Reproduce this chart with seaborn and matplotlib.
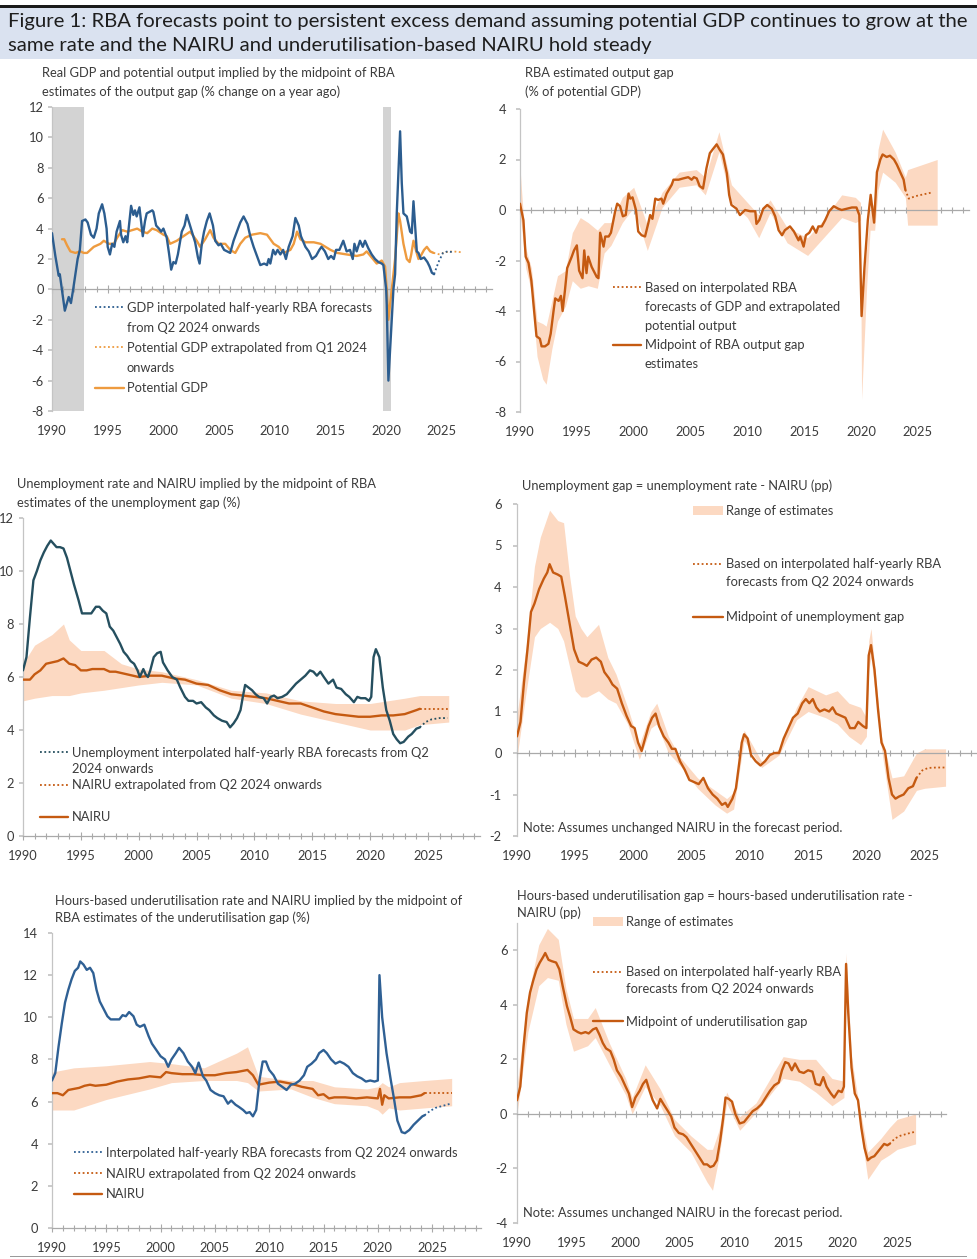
import numpy as np
import seaborn as sns
import matplotlib.pyplot as plt
from matplotlib.lines import Line2D
from matplotlib.patches import Patch, Rectangle
from matplotlib.ticker import MultipleLocator

# -------------------------------
# Panel 1: real GDP vs potential (% y/y)
# -------------------------------
gdp_year = [1990.0, 1990.3, 1990.6, 1990.7, 1991.15, 1991.5, 1991.7, 1991.9, 1992.3, 1992.5,
            1992.7, 1993.0, 1993.2, 1993.5, 1993.75, 1994.0, 1994.2, 1994.5, 1994.7, 1994.9,
            1995.0, 1995.2, 1995.4, 1995.6, 1995.8, 1996.1, 1996.2, 1996.4, 1996.6, 1996.75,
            1997.1, 1997.3, 1997.45, 1997.6, 1997.85, 1998.15, 1998.35, 1998.5, 1999.0, 1999.1,
            1999.35, 1999.6, 1999.8, 2000.0, 2000.3, 2000.5, 2000.7, 2000.9, 2001.1, 2001.3,
            2001.65, 2001.9, 2002.1, 2002.35, 2002.65, 2002.85, 2003.1, 2003.25, 2003.45, 2003.65,
            2003.9, 2004.15, 2004.45, 2004.65, 2004.95, 2005.15, 2005.45, 2006.0, 2006.3, 2006.9,
            2007.2, 2007.55, 2007.8, 2008.1, 2008.4, 2008.7, 2009.05, 2009.3, 2009.45, 2009.6,
            2009.85, 2010.05, 2010.25, 2010.5, 2010.75, 2011.0, 2011.25, 2011.6, 2011.85, 2012.15,
            2012.35, 2012.75, 2013.05, 2013.35, 2013.7, 2014.0, 2014.2, 2014.5, 2014.8, 2015.05,
            2015.3, 2015.5, 2015.8, 2016.15, 2016.45, 2016.75, 2017.0, 2017.15, 2017.35, 2017.65,
            2017.9, 2018.1, 2018.4, 2018.7, 2019.0, 2019.3, 2019.6, 2019.75, 2020.0, 2020.05,
            2020.2, 2020.35, 2020.5, 2020.65, 2020.8, 2020.95, 2021.25, 2021.4, 2021.55, 2021.85,
            2022.15, 2022.3, 2022.45, 2022.55, 2022.75, 2022.9, 2023.1, 2023.4, 2023.7, 2023.9,
            2024.1, 2024.3]
gdp_val = [3.7, 2.2, 0.9, 1.0, -1.4, -0.5, -0.9, 0.0, 2.0, 2.6,
           4.5, 4.6, 4.4, 3.6, 3.4, 4.0, 5.0, 5.6, 5.0, 4.0,
           2.8, 2.3, 3.0, 2.8, 3.8, 4.5, 3.6, 3.1, 3.5, 3.1,
           5.5, 4.9, 5.2, 4.8, 5.4, 3.5, 4.5, 5.0, 5.2, 5.1,
           4.2, 4.0, 3.8, 4.0, 3.4, 2.4, 1.3, 1.8, 1.7, 2.3,
           3.8, 4.2, 4.9, 4.3, 3.6, 3.1, 2.1, 1.7, 3.0, 3.8,
           4.5, 5.0, 4.2, 3.2, 2.9, 3.0, 2.6, 2.4, 3.2, 4.4,
           4.8, 4.3, 3.5, 2.8, 2.2, 1.6, 1.7, 1.6, 2.0, 1.7,
           2.6, 2.3, 2.6, 2.3, 2.6, 2.0, 2.8, 3.5, 4.7, 4.2,
           3.5, 2.8, 2.5, 2.0, 2.2, 2.6, 2.8, 2.5, 2.0, 2.2,
           2.0, 2.6, 2.6, 3.2, 2.5, 2.6, 2.0, 3.0, 2.5, 3.2,
           2.8, 3.2, 2.7, 2.3, 2.0, 1.8, 1.7, 1.6, 0.0, -1.0,
           -6.0, -4.0, -2.0, 0.0, 1.0, 5.0, 10.4, 7.0, 5.0, 4.8,
           3.8, 3.7, 5.8, 4.7, 2.5, 2.4, 2.0, 2.1, 1.8, 1.5,
           1.1, 1.0]
gdp_fc_year = [2024.3, 2024.7, 2025.1, 2025.5, 2026.0]
gdp_fc_val = [1.0, 1.8, 2.4, 2.5, 2.45]

pot_year = [1990.9, 1991.1, 1991.35, 1991.65, 1992.1, 1992.55, 1992.85, 1993.15, 1993.45, 1993.75,
            1994.35, 1994.65, 1995.1, 1995.55, 1995.85, 1996.3, 1996.75, 1997.2, 1997.65, 1998.1,
            1998.55, 1999.0, 1999.4, 2000.0, 2000.3, 2000.6, 2001.2, 2001.8, 2002.4, 2003.0,
            2003.3, 2003.75, 2004.2, 2004.5, 2004.95, 2005.55, 2006.0, 2006.45, 2006.9, 2007.35,
            2007.95, 2008.7, 2009.3, 2009.9, 2010.35, 2010.8, 2011.4, 2011.7, 2011.85, 2012.0,
            2012.3, 2012.75, 2013.5, 2014.1, 2014.55, 2015.0, 2015.6, 2016.45, 2017.35, 2017.95,
            2018.25, 2018.7, 2019.15, 2019.6, 2019.9, 2020.05, 2020.2, 2020.35, 2020.65, 2020.8,
            2021.1, 2021.25, 2021.55, 2021.85, 2022.1, 2022.25, 2022.45, 2022.7, 2022.9, 2023.1,
            2023.4, 2023.65, 2023.95, 2024.25]
pot_val = [3.3, 3.3, 2.9, 2.5, 2.4, 2.5, 2.4, 2.4, 2.6, 2.8,
           3.0, 3.2, 3.0, 3.0, 3.4, 3.9, 3.8, 3.9, 4.0, 3.8,
           3.7, 4.0, 3.9, 3.6, 3.5, 3.0, 3.2, 3.5, 3.8, 3.2,
           2.8, 3.3, 3.9, 3.4, 3.0, 3.0, 2.6, 2.4, 3.0, 3.4,
           3.6, 3.7, 3.6, 3.0, 2.8, 2.4, 2.6, 3.0, 3.4, 3.8,
           3.3, 3.1, 3.1, 3.0, 2.8, 2.6, 2.4, 2.3, 2.2, 2.3,
           2.5, 2.1, 1.7, 1.9, 1.5, 0.0, -2.0, -1.0, 1.0, 2.0,
           5.0, 4.5, 3.0, 2.0, 1.8, 2.3, 3.2, 2.5, 2.0, 2.2,
           2.6, 2.8, 2.5, 2.4]
pot_fc_year = [2024.25, 2024.8, 2025.3, 2026.0, 2026.7]
pot_fc_val = [2.4, 2.3, 2.45, 2.5, 2.45]
recession_start = [1990.0, 2019.75]
recession_end = [1992.9, 2020.45]

# -------------------------------
# Panel 2: output gap (% of potential GDP)
# -------------------------------
ogap_year = [1990.0, 1990.3, 1990.5, 1990.75, 1991.0, 1991.2, 1991.45, 1991.75, 1991.9, 1992.2,
             1992.5, 1992.7, 1992.95, 1993.1, 1993.4, 1993.6, 1993.75, 1993.95, 1994.15, 1994.55,
             1994.75, 1995.0, 1995.2, 1995.5, 1995.65, 1995.85, 1996.0, 1996.3, 1996.75, 1996.9,
             1997.05, 1997.35, 1997.5, 1997.8, 1998.0, 1998.35, 1998.55, 1998.8, 1999.05, 1999.3,
             1999.55, 1999.7, 1999.9, 2000.2, 2000.4, 2000.7, 2001.0, 2001.3, 2001.45, 2001.65,
             2001.9, 2002.15, 2002.45, 2002.6, 2002.9, 2003.35, 2003.5, 2003.95, 2004.35, 2004.8,
             2005.1, 2005.3, 2005.55, 2005.8, 2006.1, 2006.4, 2006.7, 2006.95, 2007.3, 2007.55,
             2007.85, 2008.2, 2008.4, 2008.6, 2009.05, 2009.35, 2009.8, 2010.25, 2010.7, 2010.8,
             2011.05, 2011.4, 2011.75, 2012.15, 2012.45, 2012.75, 2013.05, 2013.3, 2013.75, 2014.1,
             2014.5, 2014.65, 2014.95, 2015.15, 2015.45, 2015.75, 2016.05, 2016.25, 2016.55, 2016.85,
             2017.2, 2017.6, 2018.0, 2018.3, 2018.75, 2019.2, 2019.6, 2019.85, 2020.05, 2020.3,
             2020.6, 2020.85, 2021.15, 2021.4, 2021.7, 2021.9, 2022.25, 2022.55, 2022.9, 2023.15,
             2023.45, 2023.75, 2023.9]
ogap_val = [0.25, -0.4, -1.85, -2.1, -2.8, -3.8, -5.0, -5.1, -5.4, -5.4,
            -5.3, -4.9, -4.0, -3.5, -3.6, -3.4, -4.0, -3.2, -2.3, -1.85,
            -1.6, -1.4, -2.4, -2.7, -1.6, -2.5, -1.85, -2.25, -2.65, -2.7,
            -0.9, -1.45, -1.05, -1.05, -0.9, -0.1, 0.25, 0.15, -0.25, -0.2,
            0.65, 0.45, 0.5, 0.0, -0.85, -1.0, -1.05, -0.5, -0.2, -0.35,
            0.45, 0.4, 0.45, 0.25, 0.65, 1.0, 1.2, 1.2, 1.25, 1.3,
            1.2, 1.3, 1.25, 0.95, 0.85, 1.65, 2.25, 2.4, 2.6, 2.4,
            2.2, 1.45, 0.6, 0.2, 0.05, -0.2, 0.0, -0.05, -0.05, -0.55,
            -0.4, 0.05, 0.2, 0.05, -0.25, -0.8, -1.0, -0.8, -0.65, -0.85,
            -1.2, -1.05, -1.45, -1.0, -0.9, -0.65, -0.9, -0.65, -0.65, -0.4,
            -0.05, 0.15, 0.05, 0.0, 0.05, 0.1, 0.1, -0.2, -4.2, -2.3,
            -0.4, 0.6, -0.5, 1.5, 2.0, 2.2, 2.1, 2.15, 2.0, 1.8,
            1.5, 1.2, 0.8]
ogap_fc_year = [2023.9, 2024.2, 2024.8, 2025.5, 2026.3]
ogap_fc_val = [0.8, 0.45, 0.55, 0.62, 0.7]
ogap_band_year = [1990.0, 1990.1, 1990.5, 1991.0, 1991.5, 1992.0, 1992.3, 1992.8, 1993.3, 1994.0,
                  1994.6, 1995.3, 1996.0, 1996.8, 1997.4, 1998.0, 1999.0, 2000.0, 2001.2, 2002.5,
                  2004.0, 2005.5, 2006.3, 2007.5, 2008.6, 2010.0, 2011.0, 2012.0, 2013.5, 2015.3,
                  2016.5, 2018.3, 2019.5, 2019.95, 2020.05, 2020.5, 2020.8, 2021.2, 2021.5, 2021.9,
                  2023.0, 2023.9, 2024.1, 2026.7]
ogap_band_lo = [-0.3, -0.5, -2.3, -3.2, -5.8, -6.7, -6.9, -5.5, -4.4, -3.8,
                -2.8, -3.1, -3.0, -3.1, -1.7, -1.4, -0.5, 0.1, -1.6, 0.1,
                0.9, 1.0, 0.6, 2.3, 0.3, -0.3, -1.1, -0.1, -1.3, -1.8,
                -1.2, -0.3, -0.5, -0.4, -7.5, -3.0, -0.8, -0.8, 0.8, 1.5,
                1.1, 0.5, -0.6, -0.6]
ogap_band_hi = [1.7, 1.0, -1.5, -2.3, -4.4, -4.5, -4.6, -3.6, -2.6, -2.4,
                -0.9, -0.3, -0.5, -0.8, -0.5, -0.5, 0.5, 0.9, -0.6, 0.7,
                1.5, 1.6, 1.3, 3.1, 1.0, 0.3, -0.2, 0.4, -0.7, -1.1,
                -0.5, 0.6, 0.5, 0.3, -3.8, -1.5, 0.0, 0.3, 2.4, 3.2,
                2.3, 1.3, 1.6, 2.0]

# -------------------------------
# Panel 3: unemployment rate and NAIRU (%)
# -------------------------------
ur_year = [1990.0, 1990.3, 1990.6, 1990.9, 1991.2, 1991.5, 1991.8, 1992.1, 1992.4, 1992.6,
           1992.9, 1993.2, 1993.5, 1993.8, 1994.1, 1994.4, 1994.8, 1995.1, 1995.5, 1995.9,
           1996.3, 1996.6, 1996.9, 1997.2, 1997.5, 1997.8, 1998.1, 1998.4, 1998.7, 1999.0,
           1999.3, 1999.6, 1999.9, 2000.1, 2000.4, 2000.6, 2000.8, 2001.0, 2001.3, 2001.6,
           2001.9, 2002.1, 2002.5, 2002.9, 2003.3, 2003.6, 2004.0, 2004.3, 2004.7, 2005.0,
           2005.4, 2005.8, 2006.1, 2006.5, 2006.8, 2007.2, 2007.6, 2007.9, 2008.2, 2008.5,
           2008.8, 2009.0, 2009.2, 2009.5, 2009.8, 2010.1, 2010.4, 2010.8, 2011.1, 2011.4,
           2011.7, 2012.0, 2012.4, 2012.8, 2013.2, 2013.6, 2014.0, 2014.4, 2014.8, 2015.1,
           2015.4, 2015.7, 2016.0, 2016.4, 2016.8, 2017.1, 2017.5, 2017.9, 2018.2, 2018.6,
           2018.9, 2019.2, 2019.6, 2019.9, 2020.1, 2020.3, 2020.5, 2020.8, 2021.1, 2021.4,
           2021.7, 2022.0, 2022.3, 2022.6, 2022.9, 2023.3, 2023.6, 2024.0, 2024.3]
ur_val = [6.25, 6.75, 8.25, 9.65, 10.0, 10.4, 10.7, 10.95, 11.15, 11.05,
          10.9, 10.9, 10.85, 10.5, 10.0, 9.5, 8.9, 8.4, 8.4, 8.4,
          8.65, 8.65, 8.5, 8.4, 7.9, 7.75, 7.5, 7.25, 6.95, 6.8,
          6.6, 6.5, 6.25, 6.0, 6.3, 6.1, 6.0, 6.25, 6.75, 6.9,
          6.95, 6.55, 6.25, 6.0, 5.9, 5.6, 5.25, 5.1, 5.1, 5.0,
          5.05, 4.85, 4.75, 4.55, 4.45, 4.35, 4.3, 4.1, 4.25, 4.45,
          4.75, 5.25, 5.7, 5.6, 5.5, 5.35, 5.25, 5.2, 5.0, 5.25,
          5.3, 5.2, 5.25, 5.35, 5.55, 5.75, 5.9, 6.05, 6.25, 6.2,
          6.05, 6.2, 6.0, 5.75, 5.9, 5.6, 5.55, 5.35, 5.25, 5.05,
          5.25, 5.2, 5.2, 5.1, 5.25, 6.75, 7.05, 6.75, 5.6, 4.75,
          4.35, 3.85, 3.65, 3.5, 3.55, 3.75, 3.85, 4.05, 4.1]
ur_fc_year = [2024.3, 2024.8, 2025.3, 2026.0, 2026.7]
ur_fc_val = [4.1, 4.3, 4.4, 4.45, 4.45]

nairu_year = [1990.0, 1990.6, 1991.0, 1991.5, 1992.0, 1992.5, 1993.0, 1993.5, 1994.0, 1994.5,
              1995.0, 1995.5, 1996.0, 1996.5, 1997.0, 1997.5, 1998.0, 1999.0, 2000.0, 2001.0,
              2002.0, 2003.0, 2004.0, 2005.0, 2006.0, 2007.0, 2008.0, 2009.0, 2010.0, 2011.0,
              2012.0, 2013.0, 2014.0, 2015.0, 2016.0, 2017.0, 2018.0, 2019.0, 2020.0, 2021.0,
              2022.0, 2023.0, 2024.0, 2024.3]
nairu_val = [5.9, 5.9, 6.1, 6.25, 6.5, 6.55, 6.6, 6.7, 6.5, 6.45,
             6.25, 6.25, 6.3, 6.3, 6.3, 6.2, 6.2, 6.1, 6.0, 6.05,
             6.05, 5.95, 5.9, 5.75, 5.7, 5.5, 5.35, 5.3, 5.25, 5.2,
             5.1, 5.0, 5.0, 4.85, 4.7, 4.6, 4.55, 4.5, 4.5, 4.55,
             4.55, 4.6, 4.75, 4.8]
nairu_fc_year = [2024.3, 2025.5, 2026.8]
nairu_fc_val = [4.8, 4.8, 4.8]
nairu_band_year = [1990.0, 1991.0, 1992.5, 1993.5, 1994.0, 1995.0, 1997.0, 1998.5, 2000.0, 2002.0,
                   2005.0, 2008.0, 2011.0, 2014.0, 2017.0, 2020.0, 2023.0, 2024.3, 2026.8]
nairu_band_lo = [5.1, 5.2, 5.3, 5.3, 5.3, 5.4, 5.5, 5.6, 5.7, 5.8,
                 5.7, 5.2, 5.0, 4.6, 4.3, 4.0, 4.0, 4.2, 4.3]
nairu_band_hi = [6.5, 7.2, 7.6, 8.0, 7.4, 7.0, 7.0, 6.5, 6.3, 6.2,
                 5.9, 5.5, 5.4, 5.1, 5.0, 5.0, 5.2, 5.3, 5.3]

# -------------------------------
# Panel 4: unemployment gap (pp)
# -------------------------------
ugap_year = [1990.0, 1990.3, 1990.6, 1990.9, 1991.2, 1991.5, 1991.9, 1992.3, 1992.6, 1992.8,
             1993.1, 1993.5, 1993.8, 1994.1, 1994.5, 1994.9, 1995.3, 1995.7, 1996.0, 1996.4,
             1996.8, 1997.2, 1997.5, 1997.9, 1998.2, 1998.6, 1999.0, 1999.4, 1999.8, 2000.1,
             2000.4, 2000.7, 2001.0, 2001.3, 2001.6, 2001.9, 2002.2, 2002.6, 2003.0, 2003.3,
             2003.6, 2004.0, 2004.4, 2004.8, 2005.2, 2005.6, 2006.0, 2006.4, 2006.8, 2007.2,
             2007.6, 2007.9, 2008.1, 2008.5, 2008.8, 2009.1, 2009.3, 2009.5, 2009.8, 2010.1,
             2010.5, 2010.9, 2011.3, 2011.7, 2012.1, 2012.5, 2012.9, 2013.3, 2013.7, 2014.1,
             2014.5, 2014.8, 2015.1, 2015.4, 2015.7, 2016.0, 2016.4, 2016.8, 2017.1, 2017.4,
             2017.8, 2018.2, 2018.6, 2019.0, 2019.3, 2019.7, 2020.0, 2020.2, 2020.4, 2020.7,
             2021.0, 2021.3, 2021.6, 2021.9, 2022.2, 2022.5, 2022.8, 2023.2, 2023.6, 2024.0,
             2024.3]
ugap_val = [0.4, 0.75, 1.7, 2.5, 3.4, 3.6, 3.95, 4.2, 4.35, 4.55,
            4.35, 4.3, 4.25, 3.8, 3.15, 2.5, 2.2, 2.15, 2.1, 2.25,
            2.3, 2.2, 1.95, 1.8, 1.65, 1.55, 1.2, 0.9, 0.65, 0.6,
            0.25, 0.05, 0.35, 0.65, 0.85, 0.95, 0.65, 0.4, 0.25, 0.1,
            0.1, -0.2, -0.4, -0.65, -0.7, -0.75, -0.6, -0.85, -1.0, -1.1,
            -1.25, -1.2, -1.3, -1.1, -0.85, -0.2, 0.25, 0.45, 0.35, -0.05,
            -0.2, -0.3, -0.2, -0.05, 0.0, 0.0, 0.35, 0.6, 0.85, 0.95,
            1.2, 1.3, 1.2, 1.3, 1.1, 1.0, 1.05, 1.0, 1.1, 0.95,
            0.9, 0.85, 0.6, 0.6, 0.75, 0.65, 0.6, 2.35, 2.6, 2.0,
            1.05, 0.25, 0.05, -0.6, -1.0, -1.1, -1.05, -1.0, -0.85, -0.8,
            -0.6]
ugap_fc_year = [2024.3, 2024.8, 2025.3, 2026.0, 2026.8]
ugap_fc_val = [-0.6, -0.42, -0.36, -0.35, -0.35]
ugap_band_year = [1990.0, 1990.8, 1991.5, 1992.0, 1992.8, 1993.5, 1994.0, 1994.5, 1995.0, 1995.5,
                  1996.0, 1997.0, 1997.8, 1998.5, 1999.5, 2000.5, 2001.5, 2002.0, 2003.0, 2004.0,
                  2005.5, 2007.0, 2008.0, 2008.6, 2009.5, 2011.0, 2012.5, 2014.0, 2015.0, 2016.5,
                  2017.5, 2018.5, 2019.5, 2020.0, 2020.2, 2020.4, 2021.3, 2022.2, 2023.2, 2024.3,
                  2025.0, 2026.8]
ugap_band_lo = [-0.1, 1.5, 2.8, 3.0, 3.15, 3.0, 2.7, 2.1, 1.5, 1.35,
                1.35, 1.5, 1.3, 1.2, 0.7, -0.15, 0.6, 0.7, 0.0, -0.3,
                -0.85, -1.25, -1.45, -1.35, 0.3, -0.35, -0.05, 0.8, 1.0, 0.85,
                0.7, 0.4, 0.2, 0.4, 2.0, 2.3, 0.1, -1.6, -1.4, -0.9,
                -0.85, -0.8]
ugap_band_hi = [0.9, 2.6, 4.5, 5.2, 5.85, 5.6, 5.55, 4.3, 3.3, 3.0,
                2.8, 3.1, 2.3, 1.9, 1.1, 0.2, 1.0, 1.2, 0.4, -0.1,
                -0.6, -0.9, -1.1, -0.95, 0.55, -0.2, 0.1, 1.1, 1.6, 1.4,
                1.5, 1.2, 1.1, 0.85, 2.7, 3.0, 0.4, -0.6, -0.55, 0.0,
                0.1, 0.1]

# -------------------------------
# Panel 5: hours-based underutilisation rate and NAIRU (%)
# -------------------------------
uu_year = [1990.0, 1990.3, 1990.6, 1990.9, 1991.2, 1991.5, 1991.8, 1992.1, 1992.4, 1992.6,
           1992.9, 1993.2, 1993.5, 1993.8, 1994.1, 1994.4, 1994.8, 1995.1, 1995.4, 1995.8,
           1996.2, 1996.5, 1996.8, 1997.1, 1997.5, 1997.8, 1998.1, 1998.5, 1998.9, 1999.2,
           1999.6, 2000.0, 2000.4, 2000.7, 2001.0, 2001.4, 2001.7, 2002.1, 2002.5, 2002.9,
           2003.2, 2003.5, 2003.9, 2004.2, 2004.6, 2005.0, 2005.4, 2005.8, 2006.2, 2006.5,
           2006.9, 2007.2, 2007.6, 2007.9, 2008.2, 2008.5, 2008.8, 2009.1, 2009.4, 2009.7,
           2010.0, 2010.4, 2010.8, 2011.2, 2011.6, 2012.0, 2012.4, 2012.8, 2013.2, 2013.5,
           2013.9, 2014.3, 2014.6, 2015.0, 2015.3, 2015.7, 2016.1, 2016.5, 2016.9, 2017.3,
           2017.7, 2018.1, 2018.5, 2018.9, 2019.3, 2019.7, 2020.0, 2020.15, 2020.4, 2020.8,
           2021.2, 2021.5, 2021.8, 2022.2, 2022.5, 2022.9, 2023.3, 2023.7, 2024.1, 2024.3]
uu_val = [7.0, 7.35, 8.6, 9.7, 10.7, 11.3, 11.8, 12.2, 12.35, 12.65,
          12.5, 12.25, 12.35, 12.1, 11.3, 10.75, 10.35, 10.05, 9.9, 9.9,
          9.9, 10.1, 10.05, 10.25, 10.05, 9.65, 9.55, 9.65, 9.1, 8.75,
          8.45, 8.15, 8.0, 7.65, 8.0, 8.3, 8.55, 8.3, 7.9, 7.65,
          7.35, 7.85, 7.2, 7.0, 6.55, 6.4, 6.3, 6.25, 5.9, 6.05,
          5.85, 5.75, 5.6, 5.45, 5.5, 5.3, 5.6, 7.0, 7.9, 7.9,
          7.5, 7.25, 6.85, 6.7, 6.55, 6.8, 6.85, 7.0, 7.25, 7.65,
          7.8, 8.0, 8.3, 8.45, 8.3, 8.0, 7.8, 7.9, 7.8, 7.65,
          7.35, 7.2, 7.1, 6.95, 7.0, 6.95, 7.0, 12.0, 10.0, 8.3,
          7.0, 6.1, 5.1, 4.55, 4.5, 4.65, 4.9, 5.1, 5.3, 5.35]
uu_fc_year = [2024.3, 2024.8, 2025.3, 2026.0, 2026.7]
uu_fc_val = [5.35, 5.55, 5.7, 5.8, 5.9]

unairu_year = [1990.0, 1990.5, 1991.0, 1991.5, 1992.0, 1992.5, 1993.0, 1993.5, 1994.0, 1995.0,
               1996.0, 1997.0, 1998.0, 1999.0, 2000.0, 2000.5, 2001.0, 2002.0, 2003.0, 2004.0,
               2005.0, 2006.0, 2007.0, 2008.0, 2008.5, 2009.0, 2009.5, 2010.0, 2011.0, 2012.0,
               2013.0, 2014.0, 2014.5, 2015.0, 2015.5, 2016.0, 2017.0, 2018.0, 2019.0, 2020.0,
               2020.2, 2020.4, 2020.6, 2021.0, 2022.0, 2023.0, 2024.0, 2024.3]
unairu_val = [6.4, 6.4, 6.3, 6.55, 6.6, 6.65, 6.75, 6.8, 6.75, 6.8,
              6.95, 7.05, 7.1, 7.2, 7.15, 7.4, 7.35, 7.3, 7.3, 7.25,
              7.25, 7.35, 7.4, 7.5, 7.25, 6.8, 6.85, 6.9, 6.95, 6.85,
              6.7, 6.6, 6.3, 6.35, 6.15, 6.2, 6.2, 6.15, 6.2, 6.15,
              6.6, 5.85, 6.3, 6.15, 6.2, 6.2, 6.3, 6.4]
unairu_fc_year = [2024.3, 2025.5, 2026.8]
unairu_fc_val = [6.4, 6.4, 6.4]
unairu_band_year = [1990.0, 1992.0, 1995.0, 1999.0, 2001.0, 2004.0, 2007.0, 2008.0, 2009.0, 2012.0,
                    2014.0, 2016.0, 2019.0, 2020.0, 2020.4, 2021.0, 2022.0, 2024.3, 2026.8]
unairu_band_lo = [5.6, 5.6, 6.1, 6.6, 6.9, 7.0, 7.0, 6.9, 6.5, 6.6,
                  6.2, 5.9, 5.8, 5.6, 5.4, 5.7, 5.6, 5.7, 5.8]
unairu_band_hi = [7.4, 7.6, 7.7, 7.9, 7.8, 7.6, 8.3, 8.6, 7.2, 7.0,
                  7.0, 6.7, 6.6, 6.7, 6.9, 6.7, 6.9, 7.0, 7.1]

# -------------------------------
# Panel 6: hours-based underutilisation gap (pp)
# -------------------------------
hgap_year = [1990.0, 1990.3, 1990.6, 1990.9, 1991.2, 1991.5, 1991.8, 1992.1, 1992.4, 1992.6,
             1992.9, 1993.2, 1993.6, 1993.9, 1994.2, 1994.6, 1994.9, 1995.2, 1995.6, 1995.9,
             1996.3, 1996.6, 1997.0, 1997.3, 1997.6, 1997.9, 1998.2, 1998.6, 1998.9, 1999.2,
             1999.6, 2000.0, 2000.3, 2000.6, 2000.9, 2001.3, 2001.6, 2001.9, 2002.2, 2002.5,
             2002.9, 2003.2, 2003.5, 2003.9, 2004.2, 2004.5, 2004.9, 2005.3, 2005.6, 2006.0,
             2006.4, 2006.8, 2007.2, 2007.5, 2007.8, 2008.1, 2008.4, 2008.7, 2008.95, 2009.2,
             2009.5, 2009.8, 2010.1, 2010.5, 2010.9, 2011.3, 2011.7, 2012.1, 2012.5, 2012.9,
             2013.3, 2013.7, 2014.1, 2014.4, 2014.7, 2015.0, 2015.3, 2015.6, 2016.0, 2016.4,
             2016.8, 2017.2, 2017.5, 2017.9, 2018.2, 2018.5, 2018.9, 2019.2, 2019.6, 2019.9,
             2020.1, 2020.3, 2020.5, 2020.8, 2021.1, 2021.4, 2021.7, 2022.0, 2022.3, 2022.6,
             2022.9, 2023.2, 2023.5, 2023.8, 2024.1, 2024.3]
hgap_val = [0.5, 1.0, 2.45, 3.7, 4.45, 4.9, 5.3, 5.55, 5.75, 5.9,
            5.65, 5.6, 5.55, 5.3, 4.7, 3.95, 3.55, 3.1, 3.0, 2.95,
            3.0, 2.95, 3.1, 3.15, 2.9, 2.6, 2.4, 2.3, 2.0, 1.6,
            1.35, 1.0, 0.75, 0.25, 0.6, 0.85, 1.1, 1.25, 0.85, 0.5,
            0.2, 0.55, 0.35, 0.1, -0.1, -0.5, -0.7, -0.75, -0.85, -1.1,
            -1.35, -1.6, -1.85, -1.85, -1.95, -1.9, -1.7, -1.0, -0.25, 0.6,
            0.55, 0.45, 0.0, -0.35, -0.3, -0.1, 0.1, 0.2, 0.35, 0.6,
            0.85, 1.05, 1.15, 1.6, 1.9, 1.85, 1.6, 1.85, 1.55, 1.5,
            1.6, 1.55, 1.1, 1.05, 1.35, 1.0, 0.75, 0.6, 0.85, 0.8,
            1.0, 5.5, 3.7, 1.7, 0.75, 0.5, -0.5, -1.25, -1.7, -1.6,
            -1.55, -1.4, -1.25, -1.1, -1.15, -1.1]
hgap_fc_year = [2024.3, 2024.8, 2025.3, 2026.0, 2026.7]
hgap_fc_val = [-1.1, -0.9, -0.8, -0.72, -0.65]
hgap_band_year = [1990.0, 1991.0, 1992.0, 1992.8, 1993.8, 1994.5, 1995.2, 1996.5, 1997.2, 1998.5,
                  2000.0, 2000.6, 2001.8, 2003.2, 2004.5, 2006.0, 2007.5, 2008.0, 2008.6, 2009.3,
                  2010.5, 2012.0, 2014.5, 2016.0, 2017.5, 2019.0, 2020.1, 2020.3, 2020.8, 2021.3,
                  2022.3, 2023.5, 2024.3, 2025.0, 2026.7]
hgap_band_lo = [0.0, 3.0, 4.7, 5.0, 4.9, 3.3, 2.3, 2.5, 2.8, 1.8,
                0.7, 0.0, 1.0, 0.3, -0.8, -1.4, -2.5, -2.8, -1.6, 0.4,
                -0.6, 0.05, 1.3, 1.2, 0.8, 0.3, 0.6, 5.0, 1.3, 0.4,
                -2.4, -1.7, -1.5, -1.3, -1.1]
hgap_band_hi = [1.0, 4.3, 6.2, 6.8, 6.4, 4.6, 3.5, 3.5, 3.9, 2.6,
                1.3, 0.6, 1.8, 0.9, -0.2, -0.8, -1.3, -1.3, -0.6, 0.8,
                -0.1, 0.4, 2.1, 2.0, 2.0, 1.3, 1.2, 5.9, 2.1, 0.8,
                -1.4, -0.9, -0.5, -0.2, 0.0]

# -------------------------------
# Styling
# -------------------------------
sns.set_theme(style="white")
plt.rcParams['font.family'] = ['Lato', 'DejaVu Sans']
plt.rcParams['axes.unicode_minus'] = False

TXT = '#3b3b3b'
AXC = '#a9a9a9'
BAND = '#fcd9c2'
RUST = '#c55a11'
GDP_BLUE = '#2c5d8f'
POT_ORANGE = '#ee9b3f'
UR_TEAL = '#254f5f'
UU_BLUE = '#2f6094'
FS = 9.3
DOT = (0, (1, 1.4))

W, H = 977, 1259
fig = plt.figure(figsize=(W / 100, H / 100), dpi=100, facecolor='white')


def add_panel(left, top, right, bottom):
    return fig.add_axes([left / W, 1 - bottom / H, (right - left) / W, (bottom - top) / H])


def style(ax, yticks, ylim, ypad=3):
    ax.set_xlim(1990, 2029.5)
    ax.set_ylim(*ylim)
    ax.set_facecolor('none')
    ax.grid(False)
    for s in ['top', 'right']:
        ax.spines[s].set_visible(False)
    ax.spines['bottom'].set_position(('data', 0))
    ax.spines['bottom'].set_color(AXC)
    ax.spines['left'].set_color('#c4c4c4')
    ax.spines['bottom'].set_linewidth(0.9)
    ax.spines['left'].set_linewidth(0.9)
    ax.set_yticks(yticks)
    ax.set_yticklabels([f"{t:g}" for t in yticks])
    ax.xaxis.set_major_locator(MultipleLocator(5))
    ax.xaxis.set_minor_locator(MultipleLocator(1))
    ax.tick_params(axis='x', which='both', bottom=True, direction='inout',
                   labelbottom=False, color=AXC, width=0.8)
    ax.tick_params(axis='x', which='major', length=6)
    ax.tick_params(axis='x', which='minor', length=4)
    ax.tick_params(axis='y', left=True, direction='out', length=3, color='#c4c4c4',
                   labelsize=FS, labelcolor=TXT, pad=ypad)
    ax.set_xlabel('')
    ax.set_ylabel('')
    sec = ax.secondary_xaxis('bottom')
    sec.set_xticks(list(range(1990, 2026, 5)))
    sec.tick_params(length=0, pad=10, labelsize=FS, labelcolor=TXT)
    sec.spines['bottom'].set_visible(False)


def line(ax, x, y, color, dotted=False, lw=1.7):
    sns.lineplot(x=np.asarray(x), y=np.asarray(y), ax=ax, color=color,
                 linewidth=1.3 if dotted else lw, linestyle=DOT if dotted else '-',
                 estimator=None, sort=False, legend=False, zorder=3)


def band(ax, x, lo, hi):
    ax.fill_between(x, lo, hi, color=BAND, linewidth=0, zorder=1)


def legend(ax, handles, labels, x, y, spacing, hl=2.2):
    leg = ax.legend(handles, labels, loc='upper left', bbox_to_anchor=(x, y), frameon=False,
                    handlelength=hl, handletextpad=0.25, borderpad=0, borderaxespad=0,
                    labelspacing=spacing, fontsize=FS, labelcolor=TXT)
    return leg


blank = Line2D([], [], color='none')


def dot_h(c):
    return Line2D([], [], color=c, linestyle=DOT, linewidth=1.3)


def solid_h(c):
    return Line2D([], [], color=c, linewidth=1.7)


band_h = Patch(facecolor=BAND, edgecolor='none')

# -------------------------------
# Title band
# -------------------------------
fig.add_artist(Rectangle((0, 1 - 59 / H), 1, 51 / H, transform=fig.transFigure,
                         facecolor='#dae2f0', edgecolor='none', zorder=0))
fig.add_artist(Rectangle((0, 1 - 8 / H), 1, 3 / H, transform=fig.transFigure,
                         facecolor='#1a1a1a', edgecolor='none', zorder=1))
fig.add_artist(Rectangle((0.01, 1 - 1257 / H), 0.98, 1.2 / H, transform=fig.transFigure,
                         facecolor='#9a9a9a', edgecolor='none', zorder=1))
fig.text(8 / W, 1 - 21 / H, "Figure 1: RBA forecasts point to persistent excess demand assuming "
         "potential GDP continues to grow at the", fontsize=14.6, color='#1e1e1e', va='center')
fig.text(8 / W, 1 - 45 / H, "same rate and the NAIRU and underutilisation-based NAIRU hold steady",
         fontsize=14.6, color='#1e1e1e', va='center')


def panel_title(x, y, text):
    fig.text(x / W, 1 - y / H, text, fontsize=FS, color=TXT, va='center')


panel_title(42, 73, "Real GDP and potential output implied by the midpoint of RBA")
panel_title(42, 92, "estimates of the output gap (% change on a year ago)")
panel_title(525, 73, "RBA estimated output gap")
panel_title(525, 92, "(% of potential GDP)")
panel_title(17, 484, "Unemployment rate and NAIRU implied by the midpoint of RBA")
panel_title(17, 503, "estimates of the unemployment gap (%)")
panel_title(522, 486, "Unemployment gap = unemployment rate - NAIRU (pp)")
panel_title(55, 901, "Hours-based underutilisation rate and NAIRU implied by the midpoint of")
panel_title(55, 918, "RBA estimates of the underutilisation gap (%)")
panel_title(517, 896, "Hours-based underutilisation gap = hours-based underutilisation rate -")
panel_title(517, 913, "NAIRU (pp)")

# -------------------------------
# Panel 1
# -------------------------------
ax1 = add_panel(52, 107, 492, 411)
for s, e in zip(recession_start, recession_end):
    ax1.axvspan(s, e, color='#d3d3d3', linewidth=0, zorder=0.5)
line(ax1, pot_year, pot_val, POT_ORANGE)
line(ax1, gdp_year, gdp_val, GDP_BLUE)
line(ax1, pot_fc_year, pot_fc_val, POT_ORANGE, dotted=True)
line(ax1, gdp_fc_year, gdp_fc_val, GDP_BLUE, dotted=True)
style(ax1, list(range(-8, 13, 2)), (-8, 12), ypad=3)
legend(ax1, [dot_h(GDP_BLUE), blank, dot_h(POT_ORANGE), blank, solid_h(POT_ORANGE)],
       ["GDP interpolated half-yearly RBA forecasts", "from Q2 2024 onwards",
        "Potential GDP extrapolated from Q1 2024", "onwards", "Potential GDP"],
       0.098, 0.36, 0.63)

# -------------------------------
# Panel 2
# -------------------------------
ax2 = add_panel(520, 109, 969, 412)
band(ax2, ogap_band_year, ogap_band_lo, ogap_band_hi)
line(ax2, ogap_year, ogap_val, RUST)
line(ax2, ogap_fc_year, ogap_fc_val, RUST, dotted=True)
style(ax2, list(range(-8, 5, 2)), (-8, 4), ypad=7)
legend(ax2, [dot_h(RUST), blank, blank, solid_h(RUST), blank],
       ["Based on interpolated RBA", "forecasts of GDP and extrapolated", "potential output",
        "Midpoint of RBA output gap", "estimates"],
       0.207, 0.43, 0.55)

# -------------------------------
# Panel 3
# -------------------------------
ax3 = add_panel(23, 518, 480, 836)
band(ax3, nairu_band_year, nairu_band_lo, nairu_band_hi)
line(ax3, nairu_year, nairu_val, RUST)
line(ax3, ur_year, ur_val, UR_TEAL)
line(ax3, nairu_fc_year, nairu_fc_val, RUST, dotted=True)
line(ax3, ur_fc_year, ur_fc_val, UR_TEAL, dotted=True)
style(ax3, list(range(0, 13, 2)), (0, 12), ypad=3.5)
legend(ax3, [dot_h(UR_TEAL), blank, dot_h(RUST), blank, solid_h(RUST)],
       ["Unemployment interpolated half-yearly RBA forecasts from Q2", "2024 onwards",
        "NAIRU extrapolated from Q2 2024 onwards", " ", "NAIRU"],
       0.037, 0.28, 0.32)

# -------------------------------
# Panel 4
# -------------------------------
ax4 = add_panel(517, 504, 977, 836)
band(ax4, ugap_band_year, ugap_band_lo, ugap_band_hi)
line(ax4, ugap_year, ugap_val, RUST)
line(ax4, ugap_fc_year, ugap_fc_val, RUST, dotted=True)
style(ax4, list(range(-2, 7, 1)), (-2, 6), ypad=8)
legend(ax4, [band_h, blank, blank, dot_h(RUST), blank, blank, solid_h(RUST)],
       ["Range of estimates", " ", " ", "Based on interpolated half-yearly RBA",
        "forecasts from Q2 2024 onwards", " ", "Midpoint of unemployment gap"],
       0.383, 0.997, 0.44, hl=2.3)
ax4.text(0.013, 0.024, "Note: Assumes unchanged NAIRU in the forecast period.",
         transform=ax4.transAxes, fontsize=FS, color=TXT, va='center')

# -------------------------------
# Panel 5
# -------------------------------
ax5 = add_panel(52, 933, 481, 1228)
band(ax5, unairu_band_year, unairu_band_lo, unairu_band_hi)
line(ax5, unairu_year, unairu_val, RUST)
line(ax5, uu_year, uu_val, UU_BLUE)
line(ax5, unairu_fc_year, unairu_fc_val, RUST, dotted=True)
line(ax5, uu_fc_year, uu_fc_val, UU_BLUE, dotted=True)
style(ax5, list(range(0, 15, 2)), (0, 14), ypad=7)
legend(ax5, [dot_h(UU_BLUE), dot_h(RUST), solid_h(RUST)],
       ["Interpolated half-yearly RBA forecasts from Q2 2024 onwards",
        "NAIRU extrapolated from Q2 2024 onwards", "NAIRU"],
       0.051, 0.275, 0.67)

# -------------------------------
# Panel 6
# -------------------------------
ax6 = add_panel(517, 923, 946, 1223)
band(ax6, hgap_band_year, hgap_band_lo, hgap_band_hi)
line(ax6, hgap_year, hgap_val, RUST)
line(ax6, hgap_fc_year, hgap_fc_val, RUST, dotted=True)
style(ax6, list(range(-4, 7, 2)), (-4, 7), ypad=4)
legend(ax6, [band_h, blank, blank, dot_h(RUST), blank, blank, solid_h(RUST)],
       ["Range of estimates", " ", " ", "Based on interpolated half-yearly RBA",
        "forecasts from Q2 2024 onwards", " ", "Midpoint of underutilisation gap"],
       0.177, 1.023, 0.36, hl=2.3)
ax6.text(0.014, 0.033, "Note: Assumes unchanged NAIRU in the forecast period.",
         transform=ax6.transAxes, fontsize=FS, color=TXT, va='center')

fig.savefig("out.png", dpi=100)
